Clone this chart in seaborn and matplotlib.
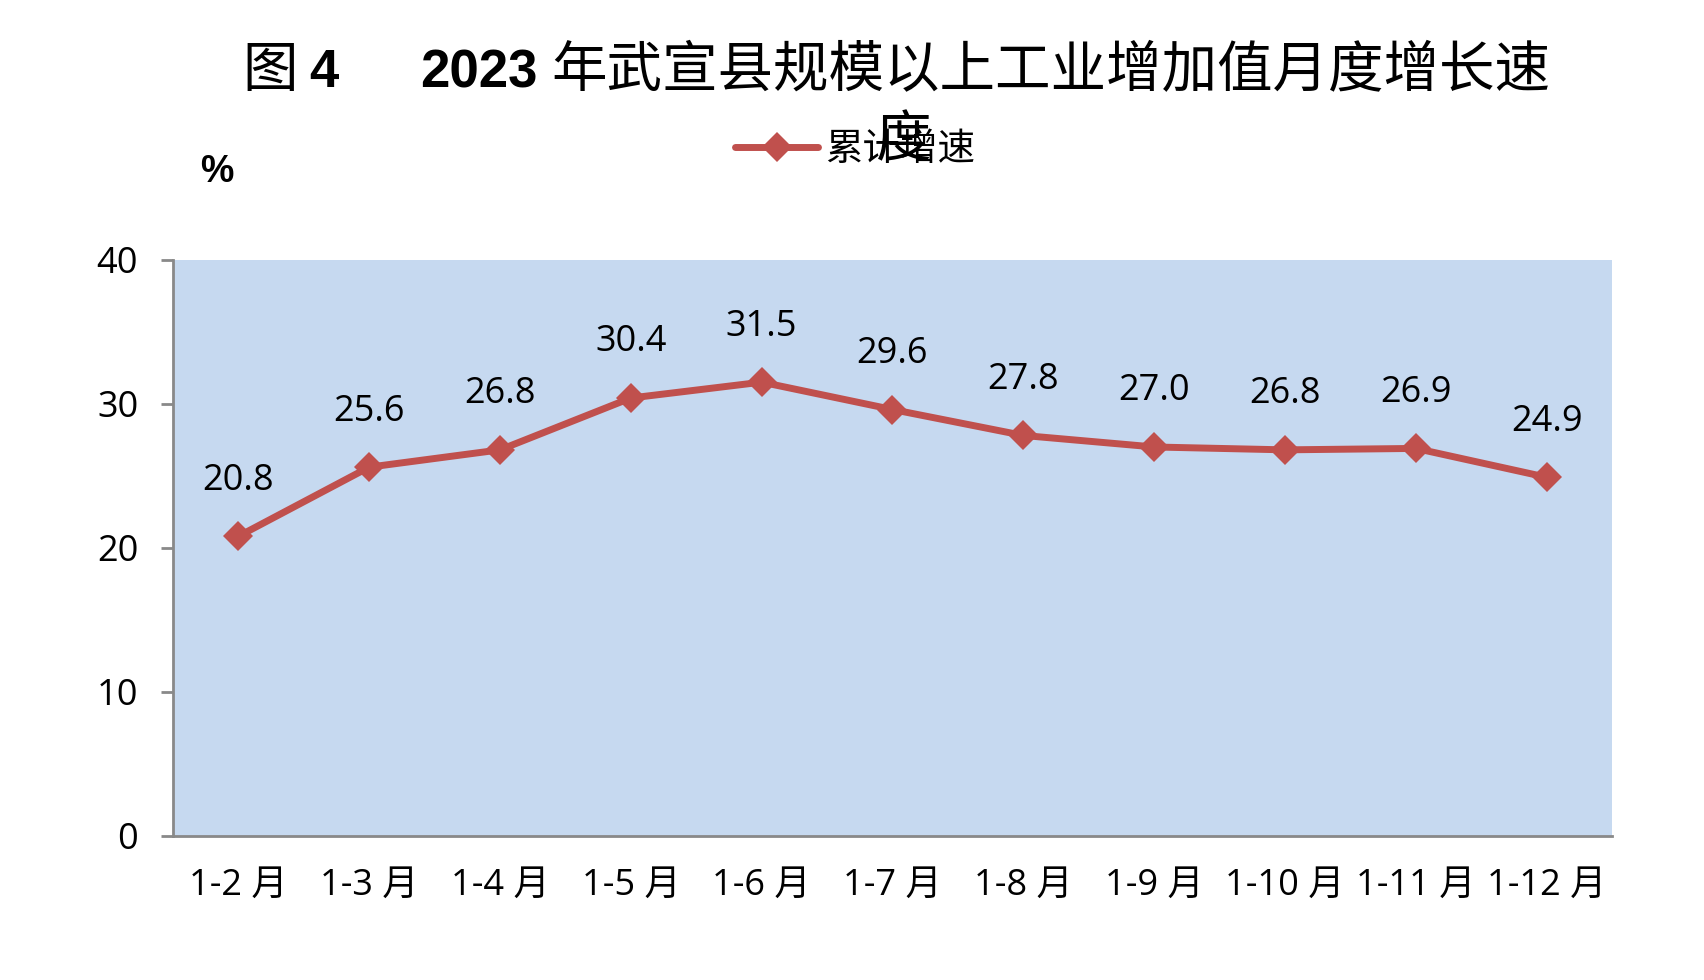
#!/usr/bin/env python
# -*- coding: utf-8 -*-

import numpy as np
import pandas as pd
import matplotlib
matplotlib.use('Agg')
import matplotlib.pyplot as plt
import seaborn as sns

# Данные графика
months = ['1-2 月', '1-3 月', '1-4 月', '1-5 月', '1-6 月', '1-7 月',
          '1-8 月', '1-9 月', '1-10 月', '1-11 月', '1-12 月']
growth = [20.8, 25.6, 26.8, 30.4, 31.5, 29.6, 27.8, 27.0, 26.8, 26.9, 24.9]
yticks = [0, 10, 20, 30, 40]
series_name = '累计增速'

LINE_COLOR = '#C0504D'
BG_COLOR = '#C6D9F0'
AXIS_COLOR = '#898989'
CJK = ['Noto Sans CJK SC', 'DejaVu Sans']

sns.set_theme(style='white')
plt.rcParams['font.family'] = ['Open Sans', 'Noto Sans CJK SC', 'DejaVu Sans']
plt.rcParams['text.color'] = 'black'
plt.rcParams['xtick.labelcolor'] = 'black'
plt.rcParams['ytick.labelcolor'] = 'black'

df = pd.DataFrame({'月份': months, series_name: growth})

fig = plt.figure(figsize=(17.04, 9.8), dpi=100)
ax = fig.add_axes([0.1015, 0.147, 0.8445, 0.588])
ax.set_facecolor(BG_COLOR)

sns.lineplot(data=df, x='月份', y=series_name, ax=ax, sort=False,
             color=LINE_COLOR, linewidth=5, marker='D', markersize=15.5,
             markeredgewidth=0, label=series_name)

ax.set_xlim(-0.5, len(months) - 0.5)
ax.set_ylim(yticks[0], yticks[-1])
ax.set_yticks(yticks)
ax.set_xticks(range(len(months)))
ax.set_xticklabels(months)
ax.set_xticks(np.arange(0.5, len(months), 1), minor=True)
ax.set_xlabel('')
ax.set_ylabel('')

for side in ['top', 'right']:
    ax.spines[side].set_visible(False)
for side in ['left', 'bottom']:
    ax.spines[side].set_color(AXIS_COLOR)
    ax.spines[side].set_linewidth(2)

ax.tick_params(axis='x', which='major', length=0, pad=23, labelsize=26,
               labelcolor='black')
ax.tick_params(axis='x', which='minor', direction='in', length=9,
               width=1.5, color=AXIS_COLOR)
ax.tick_params(axis='y', direction='out', length=9, width=2,
               color=AXIS_COLOR, pad=16, labelsize=26, left=True,
               labelcolor='black')

# Подписи значений над точками
for i, v in enumerate(growth):
    ax.annotate(f'{v:.1f}', xy=(i, v), xytext=(0, 40),
                textcoords='offset points', ha='center', va='center',
                fontsize=26, color='black')

# Легенда
handles, labels = ax.get_legend_handles_labels()
ax.get_legend().remove()
leg = fig.legend(handles, labels, loc='center', bbox_to_anchor=(0.502, 0.847),
                 frameon=False, borderpad=0, borderaxespad=0,
                 handlelength=2.2, handletextpad=0.2,
                 prop={'family': CJK, 'size': 27})
for t in leg.get_texts():
    t.set_color('black')

# Заголовок (с переносом последнего символа, как в оригинале)
title_y = 0.911
fig.text(0.142, title_y, '图', family=CJK, fontsize=40, va='baseline',
         color='black')
fig.text(0.1813, title_y, '4', family='Liberation Sans', fontweight='bold',
         fontsize=38, va='baseline', color='black')
fig.text(0.2465, title_y, '2023', family='Liberation Sans', fontweight='bold',
         fontsize=38, va='baseline', color='black')
fig.text(0.3234, title_y, '年武宣县规模以上工业增加值月度增长速', family=CJK,
         fontsize=40, va='baseline', color='black')
fig.text(0.5305, 0.841, '度', family=CJK, fontsize=40, va='baseline',
         ha='center', color='black')

fig.text(0.127, 0.824, '%', family='Liberation Sans', fontweight='bold',
         fontsize=27, ha='center', va='center', color='black')

fig.savefig('out.png', dpi=100)
